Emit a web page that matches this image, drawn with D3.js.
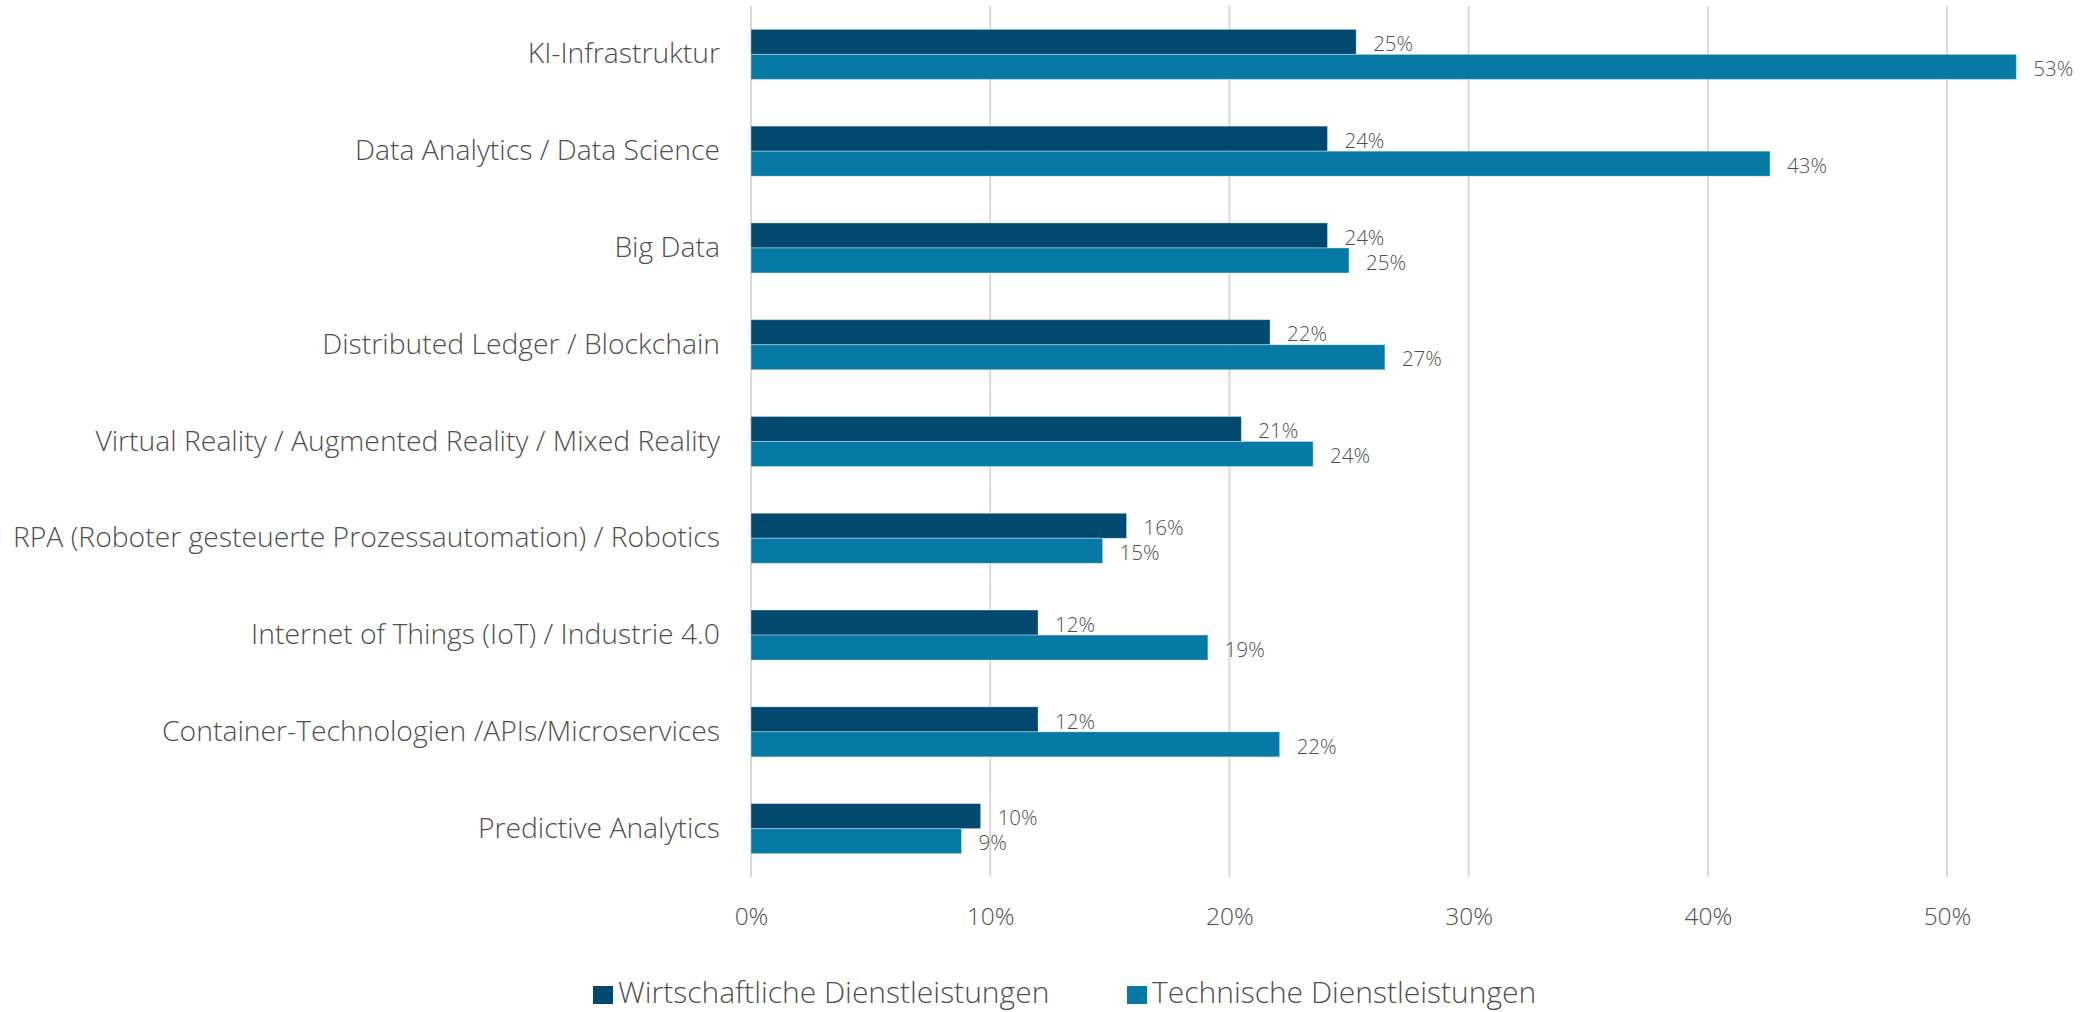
<!DOCTYPE html>
<html lang="de">
<head>
<meta charset="utf-8">
<script src="https://cdn.jsdelivr.net/npm/d3@7"></script>
<style>
  html, body { margin: 0; padding: 0; background: #ffffff; }
  svg { display: block; }
  text { font-family: "Open Sans", "Noto Sans", sans-serif; fill: #4f4f4f; }
</style>
</head>
<body>
<svg id="chart" width="2088" height="1012"></svg>
<script>
// Technologies, top to bottom
const categories = [
  "KI-Infrastruktur",
  "Data Analytics / Data Science",
  "Big Data",
  "Distributed Ledger / Blockchain",
  "Virtual Reality / Augmented Reality / Mixed Reality",
  "RPA (Roboter gesteuerte Prozessautomation) / Robotics",
  "Internet of Things (IoT) / Industrie 4.0",
  "Container-Technologien /APIs/Microservices",
  "Predictive Analytics"
];

const seriesNames = ["Wirtschaftliche Dienstleistungen", "Technische Dienstleistungen"];

// Shares per technology
const wirtschaftlich = [0.253, 0.241, 0.241, 0.217, 0.205, 0.157, 0.120, 0.120, 0.096];
const technisch      = [0.529, 0.426, 0.250, 0.265, 0.235, 0.147, 0.191, 0.221, 0.088];

const xTicks = [0, 0.1, 0.2, 0.3, 0.4, 0.5];

const colors = ["#02496f", "#0779a5"];

const svg = d3.select("#chart");

const plotTop = 6, plotBottom = 877;
const x = d3.scaleLinear().domain([0, 0.5]).range([751, 1947]);
const y = d3.scaleBand()
  .domain(categories)
  .range([plotTop, plotBottom])
  .paddingInner(0.483)
  .paddingOuter(0.2415);
const ySub = d3.scaleBand().domain(seriesNames).range([0, y.bandwidth()]);

const seriesValues = [wirtschaftlich, technisch];
const pct = d3.format(".0%");

// Vertical gridlines
svg.append("g")
  .selectAll("line")
  .data(xTicks)
  .join("line")
  .attr("x1", d => x(d)).attr("x2", d => x(d))
  .attr("y1", plotTop).attr("y2", plotBottom)
  .attr("stroke", "#d9d9d9")
  .attr("stroke-width", 2);

// X axis tick labels (baseline at 925)
const xAxis = d3.axisBottom(x).tickValues(xTicks).tickFormat(pct).tickSize(0).tickPadding(0);
const gx = svg.append("g").attr("transform", `translate(0, 925)`).call(xAxis);
gx.select(".domain").remove();
gx.selectAll("text")
  .attr("dy", null)
  .attr("y", 0)
  .style("font-size", "24.5px")
  .style("font-weight", 300)
  .attr("fill", "#4f4f4f");

// Category labels
const yAxis = d3.axisLeft(y).tickSize(0).tickPadding(31);
const gy = svg.append("g").attr("transform", `translate(${x(0)}, 0)`).call(yAxis);
gy.select(".domain").remove();
gy.selectAll("text")
  .style("font-size", "28.3px")
  .style("font-weight", 300)
  .attr("fill", "#4f4f4f");

// Bars and value labels
const groups = svg.append("g")
  .selectAll("g")
  .data(categories.map((c, i) => ({ c, i })))
  .join("g")
  .attr("transform", d => `translate(0, ${y(d.c)})`);

seriesNames.forEach((s, si) => {
  groups.append("rect")
    .attr("x", x(0))
    .attr("y", ySub(s))
    .attr("width", d => x(seriesValues[si][d.i]) - x(0))
    .attr("height", ySub.bandwidth())
    .attr("fill", colors[si])
    .attr("stroke", "#ffffff")
    .attr("stroke-opacity", 0.35)
    .attr("stroke-width", 1);

  groups.append("text")
    .attr("x", d => x(seriesValues[si][d.i]) + 17)
    .attr("y", ySub(s) + ySub.bandwidth() / 2 + 2)
    .attr("dy", "0.35em")
    .style("font-size", "20.5px")
    .style("font-weight", 300)
    .text(d => pct(seriesValues[si][d.i]));
});

// Legend (text baseline at 1003)
const legendX = [593, 1127];
const legend = svg.append("g")
  .selectAll("g")
  .data(seriesNames)
  .join("g")
  .attr("transform", (d, i) => `translate(${legendX[i]}, 1003)`);
legend.append("rect")
  .attr("x", 0).attr("y", -17)
  .attr("width", 20).attr("height", 18)
  .attr("fill", (d, i) => colors[i]);
legend.append("text")
  .attr("x", 25)
  .attr("y", 0)
  .style("font-size", "30px")
  .style("font-weight", 300)
  .text(d => d);
</script>
</body>
</html>
